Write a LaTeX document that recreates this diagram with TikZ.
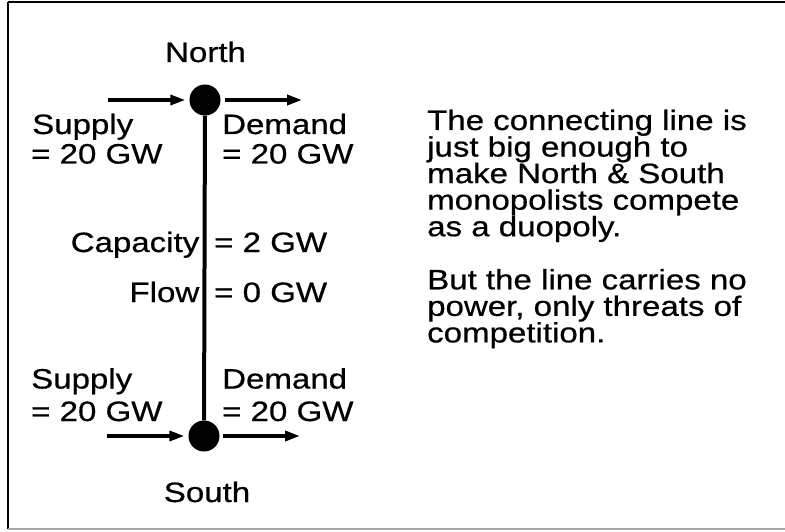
\documentclass[tikz,border=0pt]{standalone}
\usepackage{fontspec}
\setmainfont[FakeStretch=1.18,FakeBold=0.6]{Liberation Sans}
\usetikzlibrary{arrows.meta}
\begin{document}
\begin{tikzpicture}[x=1pt,y=-1pt,
  lbl/.style={inner sep=0pt,font=\fontsize{28}{29}\selectfont},
  dot/.style={circle,fill=black,inner sep=0pt,minimum size=31pt},
  flowarrow/.style={line width=3.5pt,-{Triangle[length=15pt,width=10pt]}},
  tie/.style={line width=4pt}]
\useasboundingbox (0,0) rectangle (785,532);
% frame
\draw[line width=2.5pt] (8,2) -- (785,2);
\draw[line width=2.5pt] (8,2) -- (8,529);
\draw[line width=2pt,black!35] (8,529) -- (785,529);
% buses
\node[dot] (N) at (205,100) {};
\node[dot] (S) at (204,436) {};
\draw[tie] (N) -- (S);
% arrows
\coordinate (nin) at (108,100);
\coordinate (nout) at (302,100);
\coordinate (sin) at (107,436);
\coordinate (sout) at (300,436);
\draw[flowarrow,shorten >=4pt] (nin) -- (N.west);
\draw[flowarrow,shorten <=4pt] (N.east) -- (nout);
\draw[flowarrow,shorten >=4pt] (sin) -- (S.west);
\draw[flowarrow,shorten <=3pt] (S.east) -- (sout);
% labels
\node[lbl,anchor=base] (north) at (205.5,62) {North};
\node[lbl,anchor=base] (south) at (207,502) {South};
\node[lbl,anchor=base west] (sn1) at (32,134) {Supply};
\node[lbl,anchor=base west] (sn2) at (31,163.5) {= 20 GW};
\node[lbl,anchor=base west] (dn1) at (222,134) {Demand};
\node[lbl,anchor=base west] (dn2) at (222,163.5) {= 20 GW};
\node[lbl,anchor=base east] (cap) at (199.5,252) {Capacity};
\node[lbl,anchor=base west] (capv) at (214,252) {= 2 GW};
\node[lbl,anchor=base east] (flw) at (199.5,302) {Flow};
\node[lbl,anchor=base west] (flwv) at (214,302) {= 0 GW};
\node[lbl,anchor=base west] (ss1) at (31,388.5) {Supply};
\node[lbl,anchor=base west] (ss2) at (31,421) {= 20 GW};
\node[lbl,anchor=base west] (ds1) at (222,388.5) {Demand};
\node[lbl,anchor=base west] (ds2) at (222,421) {= 20 GW};
% explanation
\node[lbl,anchor=base west] (t1) at (427,130) {The connecting line is};
\node[lbl,anchor=base west] (t2) at (427,156.55) {just big enough to};
\node[lbl,anchor=base west] (t3) at (427,183.1) {make North \& South};
\node[lbl,anchor=base west] (t4) at (427,209.65) {monopolists compete};
\node[lbl,anchor=base west] (t5) at (427,236.2) {as a duopoly.};
\node[lbl,anchor=base west] (t6) at (427,289.3) {But the line carries no};
\node[lbl,anchor=base west] (t7) at (427,315.85) {power, only threats of};
\node[lbl,anchor=base west] (t8) at (427,342.4) {competition.};
\end{tikzpicture}
\end{document}
